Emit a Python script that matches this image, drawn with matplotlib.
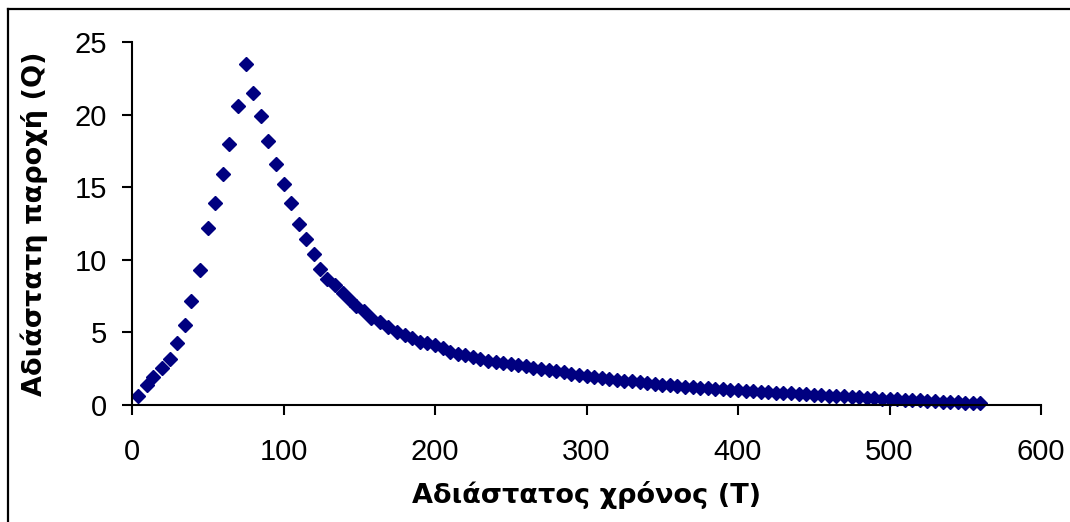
import matplotlib.pyplot as plt
from matplotlib.lines import Line2D

plt.rcParams['font.family'] = ['Liberation Sans', 'DejaVu Sans']

# dimensionless time (T) and dimensionless discharge (Q)
T = [4, 10, 14, 20, 25, 30, 35, 39, 45, 50, 55, 60, 64, 70, 75,
     80, 85, 90, 95, 100, 105, 110, 115, 120, 124, 129, 134, 139, 144, 148,
     153, 158, 164, 169, 175, 180, 185, 190, 195, 200, 205, 210, 215, 220, 225,
     230, 235, 240, 245, 250, 255, 260, 265, 270, 275, 280, 285, 290, 295, 300,
     305, 310, 315, 320, 325, 330, 335, 340, 345, 350, 355, 360, 365, 370, 375,
     380, 385, 390, 395, 400, 405, 410, 415, 420, 425, 430, 435, 440, 445, 450,
     455, 460, 465, 470, 475, 480, 485, 490, 495, 500, 505, 510, 515, 520, 525,
     530, 535, 540, 545, 550, 555, 560]
Q = [0.6, 1.4, 1.95, 2.55, 3.15, 4.25, 5.5, 7.15, 9.3, 12.2, 13.9, 15.9, 18.0, 20.6, 23.5,
     21.5, 19.9, 18.2, 16.6, 15.2, 13.9, 12.5, 11.4, 10.4, 9.35, 8.7, 8.25, 7.7, 7.2, 6.8,
     6.5, 6.0, 5.7, 5.4, 5.05, 4.8, 4.6, 4.36, 4.25, 4.13, 3.9, 3.67, 3.5, 3.44, 3.28,
     3.15, 3.05, 2.98, 2.9, 2.82, 2.74, 2.66, 2.58, 2.5, 2.42, 2.35, 2.25, 2.15, 2.05, 1.98,
     1.92, 1.86, 1.8, 1.74, 1.68, 1.62, 1.56, 1.5, 1.45, 1.4, 1.36, 1.32, 1.27, 1.23, 1.19,
     1.15, 1.12, 1.09, 1.06, 1.03, 0.99, 0.95, 0.92, 0.89, 0.86, 0.83, 0.8, 0.77, 0.74, 0.71,
     0.68, 0.65, 0.62, 0.59, 0.56, 0.53, 0.5, 0.46, 0.43, 0.41, 0.39, 0.37, 0.34, 0.31, 0.28,
     0.26, 0.23, 0.2, 0.18, 0.16, 0.15, 0.14]

xticks = [0, 100, 200, 300, 400, 500, 600]
yticks = [0, 5, 10, 15, 20, 25]

fig = plt.figure(figsize=(10.7, 5.22), dpi=100)
ax = fig.add_axes([132 / 1070, 1 - 405 / 522, 909 / 1070, 363 / 522])

ax.plot(T, Q, linestyle='none', marker='D', markersize=7,
        color='#000080', markeredgecolor='#000080', clip_on=False)

ax.set_xlim(0, 600)
ax.set_ylim(0, 25)
ax.set_xticks(xticks)
ax.set_yticks(yticks)
ax.spines['top'].set_visible(False)
ax.spines['right'].set_visible(False)
for s in ['left', 'bottom']:
    ax.spines[s].set_linewidth(1.5)
ax.tick_params(axis='both', direction='out', length=7, width=1.5, labelsize=21)
ax.tick_params(axis='x', pad=17)
ax.tick_params(axis='y', pad=11)

label_font = dict(fontsize=19.5, fontweight='bold', family=['DejaVu Sans'])
ax.set_xlabel('Αδιάστατος χρόνος (Τ)', **label_font)
ax.set_ylabel('Αδιάστατη παροχή (Q)', **label_font)
ax.xaxis.set_label_coords(0.5, -0.21)
ax.yaxis.set_label_coords(-0.0924, 0.5)

# outer chart frame (only top and left edges show in the crop)
fig.add_artist(Line2D([8 / 1070, 1.0], [1 - 9 / 522, 1 - 9 / 522],
                      transform=fig.transFigure, color='black', lw=1.6))
fig.add_artist(Line2D([8 / 1070, 8 / 1070], [0, 1 - 9 / 522],
                      transform=fig.transFigure, color='black', lw=1.6))

fig.savefig('out.png', dpi=100)
